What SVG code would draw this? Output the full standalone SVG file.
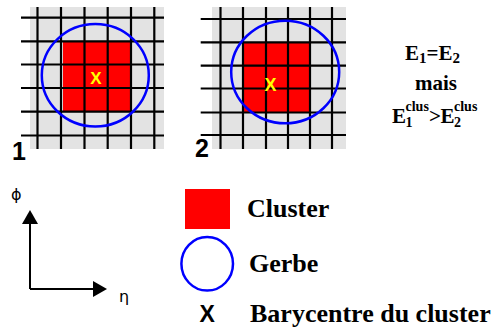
<svg xmlns="http://www.w3.org/2000/svg" width="495" height="330" viewBox="0 0 495 330">
<defs>
<style>
.bg{fill:#e3e3e3}
.red{fill:#ff0000}
.gl{stroke:#000;stroke-width:2.2;fill:none}
.gerbe{fill:none;stroke:#0000ff;stroke-width:2.5}
.bx{font-family:"Liberation Sans",Arial,sans-serif;font-weight:bold;fill:#ffff00;text-anchor:middle}
.num{font-family:"Liberation Sans",Arial,sans-serif;font-weight:bold;font-size:25px;fill:#000}
.tm{font-family:"Liberation Serif","Times New Roman",serif;font-weight:bold;fill:#000}
.ax{stroke:#000;stroke-width:2;fill:none}
.sym{font-family:"DejaVu Sans","Liberation Sans",sans-serif;font-size:16px;fill:#000}
</style>
<marker id="arr" viewBox="0 0 14 16" refX="0" refY="8" markerWidth="14" markerHeight="16" markerUnits="userSpaceOnUse" orient="auto">
<path d="M0,0 L14,8 L0,16 Z" fill="#000"/>
</marker>
</defs>

<g id="grid1">
<rect class="bg" x="30" y="7" width="134" height="142"/>
<rect class="red" x="63" y="41" width="67" height="71"/>
<path class="gl" d="M37.5,7V149M61,7V149M84.5,7V149M107.7,7V149M131,7V149M154.3,7V149M21,17.7H164M21,41.3H164M21,64.5H164M21,88H164M21,111.7H164M21,135.5H164"/>
<ellipse class="gerbe" cx="95.3" cy="75.3" rx="53.5" ry="51.2"/>
<text class="bx" x="96" y="83.5" font-size="17">X</text>
<text class="num" x="12" y="160">1</text>
</g>

<g id="grid2">
<rect class="bg" x="212" y="7" width="134" height="142"/>
<rect class="red" x="243" y="42" width="67" height="70.5"/>
<path class="gl" d="M220.5,7V149M243,7V149M266,7V149M288,7V149M310,7V149M332,7V149M200.7,19H346M200.7,42.3H346M200.7,65.7H346M200.7,88.5H346M200.7,112.5H346M200.7,135H346"/>
<ellipse class="gerbe" cx="285.2" cy="72" rx="54" ry="51.3"/>
<text class="bx" x="270.5" y="90.5" font-size="18">X</text>
<text class="num" x="195" y="157">2</text>
</g>

<g id="energy">
<text class="tm" x="405" y="60" font-size="21">E<tspan font-size="15" dy="3">1</tspan><tspan dy="-3">=E</tspan><tspan font-size="15" dy="3">2</tspan></text>
<text class="tm" x="436" y="89.5" font-size="21" text-anchor="middle">mais</text>
<text class="tm" x="392" y="123" font-size="21">E</text>
<text class="tm" x="405.5" y="126.5" font-size="14">1</text>
<text class="tm" x="405.5" y="111" font-size="14">clus</text>
<text class="tm" x="429" y="123" font-size="21">&gt;</text>
<text class="tm" x="440.5" y="123" font-size="21">E</text>
<text class="tm" x="454" y="126.5" font-size="14">2</text>
<text class="tm" x="454" y="111" font-size="14">clus</text>
</g>

<g id="axes">
<path class="ax" d="M30,289V224" marker-end="url(#arr)"/>
<path class="ax" d="M30,289H93" marker-end="url(#arr)"/>
<text class="sym" x="11" y="200">ϕ</text>
<text class="sym" x="119" y="302">η</text>
</g>

<g id="legend-cluster">
<rect class="red" x="185" y="189" width="45" height="40"/>
<text class="tm" x="247" y="216.5" font-size="26">Cluster</text>
</g>
<g id="legend-gerbe">
<ellipse class="gerbe" cx="207.2" cy="263.8" rx="25.8" ry="26.8"/>
<text class="tm" x="249" y="272" font-size="26">Gerbe</text>
</g>
<g id="legend-barycentre">
<text x="199.5" y="321.5" font-family="Liberation Sans,Arial,sans-serif" font-weight="bold" font-size="23" fill="#000">X</text>
<text class="tm" x="250" y="321.5" font-size="26">Barycentre du cluster</text>
</g>
</svg>
